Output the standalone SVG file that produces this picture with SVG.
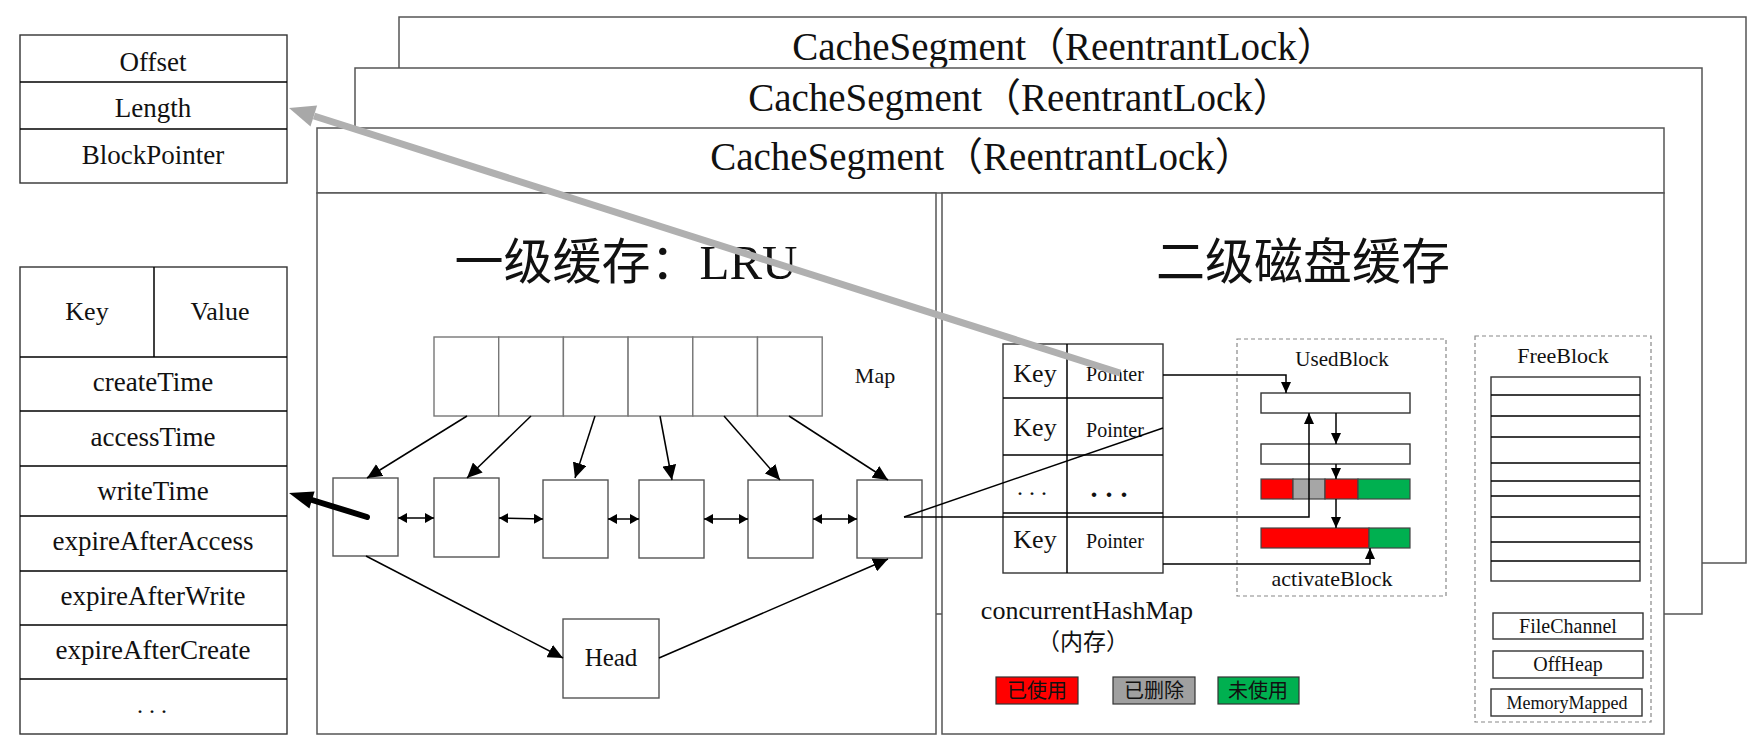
<svg xmlns="http://www.w3.org/2000/svg" width="1756" height="755" viewBox="0 0 1756 755">
<style>
.t{font-family:"Liberation Serif","Noto Sans CJK SC",serif;fill:#111;text-anchor:middle}
.cjk{font-family:"Liberation Serif","Noto Sans CJK SC",sans-serif;fill:#111;text-anchor:middle}
.seg{fill:#fff;stroke:#555;stroke-width:1.5}
.box{fill:#fff;stroke:#333;stroke-width:1.4}
.cell{fill:#fff;stroke:#777;stroke-width:1.4}
.node{fill:#fff;stroke:#555;stroke-width:1.4}
.dash{fill:none;stroke:#888;stroke-width:1.2;stroke-dasharray:4 3}
.ln{fill:none;stroke:#000;stroke-width:1.5}
.bar{stroke:#444;stroke-width:1.2}
</style>
<defs>
<marker id="ah" markerUnits="userSpaceOnUse" markerWidth="16" markerHeight="14" refX="15" refY="7" orient="auto"><path d="M0,0 L15,7 L0,14 z" fill="#000"/></marker>
<marker id="ahs" markerUnits="userSpaceOnUse" markerWidth="12" markerHeight="10" refX="11" refY="5" orient="auto"><path d="M0,0 L11,5 L0,10 z" fill="#000"/></marker>
<marker id="dh" markerUnits="userSpaceOnUse" markerWidth="10" markerHeight="10" refX="9" refY="5" orient="auto-start-reverse"><path d="M0,0 L9,5 L0,10 z" fill="#000"/></marker>
</defs>
<rect width="1756" height="755" fill="#fff"/>

<g id="segment-back">
<rect class="seg" x="399" y="17" width="1347" height="546"/>
<text class="t" x="1064" y="60" font-size="39">CacheSegment（ReentrantLock）</text>
</g>
<g id="segment-middle">
<rect class="seg" x="355" y="68" width="1347" height="546"/>
<text class="t" x="1020" y="111" font-size="39">CacheSegment（ReentrantLock）</text>
</g>
<g id="segment-front">
<rect class="seg" x="317" y="128" width="1347" height="65"/>
<text class="t" x="982" y="170" font-size="39">CacheSegment（ReentrantLock）</text>
</g>

<g id="lru-panel">
<rect class="seg" x="317" y="193" width="619" height="541"/>
<text class="cjk" x="626" y="279" font-size="49">一级缓存：LRU</text>
</g>
<g id="disk-panel">
<rect class="seg" x="942" y="193" width="722" height="541"/>
<text class="cjk" x="1303" y="279" font-size="49">二级磁盘缓存</text>
</g>

<g id="block-meta">
<rect class="box" x="20" y="35" width="267" height="148"/>
<line class="ln" x1="20" y1="82" x2="287" y2="82" stroke="#333"/>
<line class="ln" x1="20" y1="129" x2="287" y2="129" stroke="#333"/>
<text class="t" x="153" y="71" font-size="27">Offset</text>
<text class="t" x="153" y="117" font-size="27">Length</text>
<text class="t" x="153" y="164" font-size="27">BlockPointer</text>
</g>

<g id="entry-table">
<rect class="box" x="20" y="267" width="267" height="467"/>
<line class="ln" x1="154" y1="267" x2="154" y2="357"/>
<line class="ln" x1="20" y1="357" x2="287" y2="357"/>
<line class="ln" x1="20" y1="411" x2="287" y2="411"/>
<line class="ln" x1="20" y1="466" x2="287" y2="466"/>
<line class="ln" x1="20" y1="516" x2="287" y2="516"/>
<line class="ln" x1="20" y1="571" x2="287" y2="571"/>
<line class="ln" x1="20" y1="625" x2="287" y2="625"/>
<line class="ln" x1="20" y1="679" x2="287" y2="679"/>
<text class="t" x="87" y="320" font-size="26">Key</text>
<text class="t" x="220" y="320" font-size="26">Value</text>
<text class="t" x="153" y="391" font-size="27">createTime</text>
<text class="t" x="153" y="446" font-size="27">accessTime</text>
<text class="t" x="153" y="500" font-size="27">writeTime</text>
<text class="t" x="153" y="550" font-size="27">expireAfterAccess</text>
<text class="t" x="153" y="605" font-size="27">expireAfterWrite</text>
<text class="t" x="153" y="659" font-size="27">expireAfterCreate</text>
<text class="t" x="155" y="713" font-size="24" letter-spacing="6">...</text>
</g>

<g id="lru-map">
<rect class="cell" x="434" y="337" width="64.7" height="79"/>
<rect class="cell" x="498.7" y="337" width="64.7" height="79"/>
<rect class="cell" x="563.4" y="337" width="64.7" height="79"/>
<rect class="cell" x="628.1" y="337" width="64.7" height="79"/>
<rect class="cell" x="692.8" y="337" width="64.7" height="79"/>
<rect class="cell" x="757.5" y="337" width="64.7" height="79"/>
<text class="t" x="875" y="383" font-size="22">Map</text>
</g>

<g id="lru-nodes">
<rect class="node" x="333" y="478" width="65" height="78"/>
<rect class="node" x="434" y="478" width="65" height="79"/>
<rect class="node" x="543" y="480" width="65" height="78"/>
<rect class="node" x="639" y="480" width="65" height="78"/>
<rect class="node" x="748" y="480" width="65" height="78"/>
<rect class="node" x="857" y="480" width="65" height="78"/>
</g>
<g id="lru-head">
<rect class="node" x="563" y="619" width="96" height="79"/>
<text class="t" x="611" y="666" font-size="25">Head</text>
</g>

<g id="hashmap">
<rect class="box" x="1003" y="344" width="160" height="229"/>
<line class="ln" x1="1067" y1="344" x2="1067" y2="573" stroke="#333"/>
<line class="ln" x1="1003" y1="398" x2="1163" y2="398" stroke="#333"/>
<line class="ln" x1="1003" y1="455" x2="1163" y2="455" stroke="#333"/>
<line class="ln" x1="1003" y1="513" x2="1163" y2="513" stroke="#333"/>
<text class="t" x="1035" y="382" font-size="26">Key</text>
<text class="t" x="1115" y="381" font-size="20">Pointer</text>
<text class="t" x="1035" y="436" font-size="26">Key</text>
<text class="t" x="1115" y="437" font-size="20">Pointer</text>
<text class="t" x="1035" y="495" font-size="24" letter-spacing="6">...</text>
<text class="t" x="1113" y="497" font-size="28" font-weight="bold" letter-spacing="8">...</text>
<text class="t" x="1035" y="548" font-size="26">Key</text>
<text class="t" x="1115" y="548" font-size="20">Pointer</text>
<text class="t" x="1087" y="619" font-size="26">concurrentHashMap</text>
<text class="cjk" x="1083" y="650" font-size="23">（内存）</text>
</g>

<g id="legend">
<rect x="996" y="677" width="82" height="27" fill="#ff0000" stroke="#333" stroke-width="1.2"/>
<text class="cjk" x="1037" y="698" font-size="20">已使用</text>
<rect x="1113" y="677" width="82" height="27" fill="#a0a0a0" stroke="#333" stroke-width="1.2"/>
<text class="cjk" x="1154" y="698" font-size="20">已删除</text>
<rect x="1218" y="677" width="81" height="27" fill="#00b050" stroke="#333" stroke-width="1.2"/>
<text class="cjk" x="1258" y="698" font-size="20">未使用</text>
</g>

<g id="used-block">
<rect class="dash" x="1237" y="339" width="209" height="257"/>
<text class="t" x="1342" y="366" font-size="21">UsedBlock</text>
<rect class="box" x="1261" y="393" width="149" height="20"/>
<rect class="box" x="1261" y="444" width="149" height="20"/>
<rect class="bar" x="1261" y="479" width="32" height="20" fill="#ff0000"/>
<rect class="bar" x="1293" y="479" width="32" height="20" fill="#a6a6a6"/>
<rect class="bar" x="1325" y="479" width="33" height="20" fill="#ff0000"/>
<rect class="bar" x="1358" y="479" width="52" height="20" fill="#00b050"/>
<rect class="bar" x="1261" y="528" width="108" height="20" fill="#ff0000"/>
<rect class="bar" x="1369" y="528" width="41" height="20" fill="#00b050"/>
<text class="t" x="1332" y="586" font-size="22">activateBlock</text>
</g>

<g id="free-block">
<rect class="dash" x="1475" y="336" width="176" height="386"/>
<text class="t" x="1563" y="363" font-size="22">FreeBlock</text>
<rect class="box" x="1491" y="377" width="149" height="204"/>
<path class="ln" stroke="#333" d="M1491,395H1640M1491,416H1640M1491,437H1640M1491,463H1640M1491,481H1640M1491,496H1640M1491,517H1640M1491,542H1640M1491,561H1640"/>
<rect class="box" x="1493" y="613" width="150" height="26"/>
<text class="t" x="1568" y="633" font-size="20">FileChannel</text>
<rect class="box" x="1493" y="651" width="150" height="27"/>
<text class="t" x="1568" y="671" font-size="20">OffHeap</text>
<rect class="box" x="1491" y="689" width="151" height="27"/>
<text class="t" x="1567" y="709" font-size="18">MemoryMapped</text>
</g>

<g id="connectors">
<line class="ln" x1="467" y1="416" x2="367" y2="478" marker-end="url(#ah)"/>
<line class="ln" x1="531" y1="416" x2="467" y2="478" marker-end="url(#ah)"/>
<line class="ln" x1="595" y1="416" x2="575" y2="478" marker-end="url(#ah)"/>
<line class="ln" x1="660" y1="416" x2="672" y2="480" marker-end="url(#ah)"/>
<line class="ln" x1="724" y1="416" x2="780" y2="480" marker-end="url(#ah)"/>
<line class="ln" x1="789" y1="416" x2="888" y2="480" marker-end="url(#ah)"/>
<line class="ln" x1="398" y1="518" x2="434" y2="518" marker-start="url(#dh)" marker-end="url(#dh)"/>
<line class="ln" x1="499" y1="518" x2="543" y2="519" marker-start="url(#dh)" marker-end="url(#dh)"/>
<line class="ln" x1="608" y1="519" x2="639" y2="519" marker-start="url(#dh)" marker-end="url(#dh)"/>
<line class="ln" x1="704" y1="519" x2="748" y2="519" marker-start="url(#dh)" marker-end="url(#dh)"/>
<line class="ln" x1="813" y1="519" x2="857" y2="519" marker-start="url(#dh)" marker-end="url(#dh)"/>
<line class="ln" x1="366" y1="556" x2="563" y2="658" marker-end="url(#ah)"/>
<line class="ln" x1="659" y1="658" x2="888" y2="559" marker-end="url(#ah)"/>
<line class="ln" x1="904" y1="517" x2="1163" y2="428"/>
<polyline class="ln" points="904,517 1309,517 1309,413" marker-end="url(#ahs)"/>
<polyline class="ln" points="1163,375 1286,375 1286,393" marker-end="url(#ahs)"/>
<polyline class="ln" points="1163,564 1370,564 1370,548" marker-end="url(#ahs)"/>
<line class="ln" x1="1336" y1="413" x2="1336" y2="444" marker-end="url(#ahs)"/>
<line class="ln" x1="1336" y1="464" x2="1336" y2="479" marker-end="url(#ahs)"/>
<line class="ln" x1="1336" y1="499" x2="1336" y2="528" marker-end="url(#ahs)"/>
<line x1="367" y1="517" x2="312" y2="500" stroke="#000" stroke-width="6" stroke-linecap="round"/>
<polygon points="289,493 314.6,491.4 309.4,508.6" fill="#000"/>
<line x1="1120" y1="373" x2="314" y2="116" stroke="#b0b0b0" stroke-width="7"/>
<polygon points="289,108 317.1,105.4 310.5,126.4" fill="#a8a8a8"/>
</g>
</svg>
